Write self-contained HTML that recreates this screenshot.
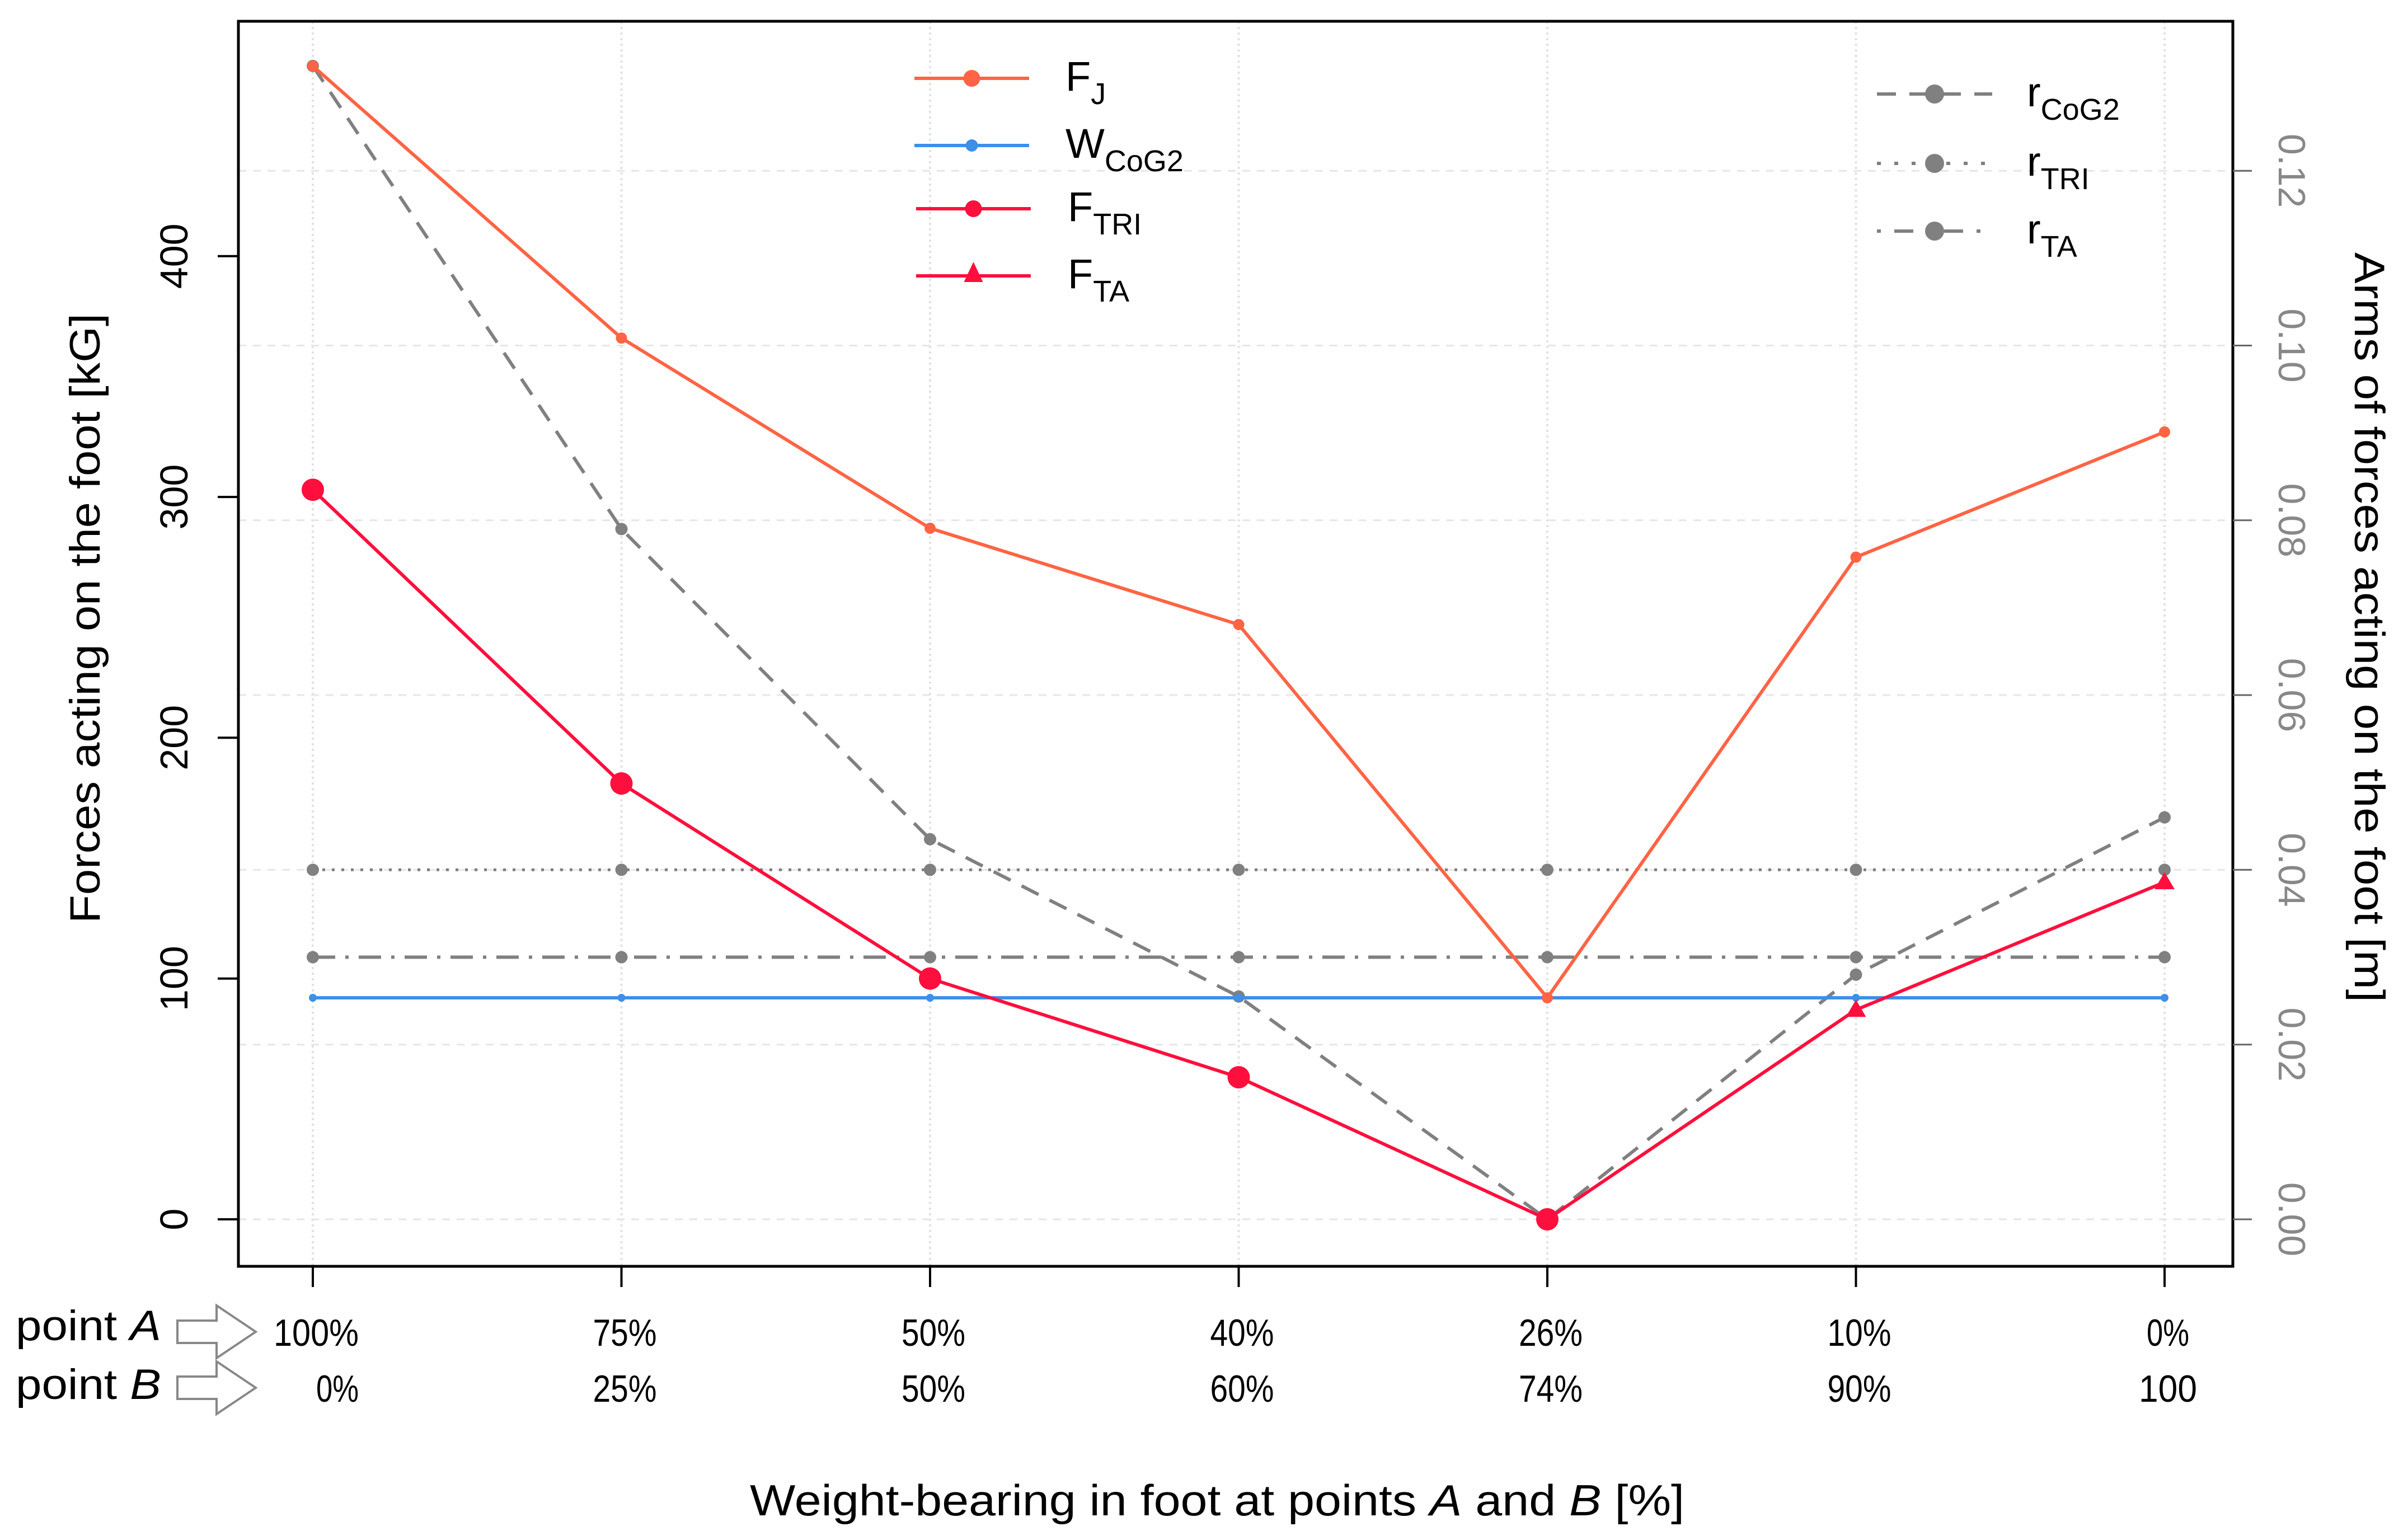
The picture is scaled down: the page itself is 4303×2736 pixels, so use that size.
<!DOCTYPE html>
<html><head><meta charset="utf-8"><style>body{margin:0;background:#fff}svg{display:block}</style></head>
<body>
<svg id="chart" width="4303" height="2736" viewBox="0 0 4303 2736" xmlns="http://www.w3.org/2000/svg" font-family="Liberation Sans, sans-serif">
<rect width="4303" height="2736" fill="#fff"/>
<g id="grid"></g><g id="axes"></g><g id="series"></g><g id="legend"></g>
</svg>
<script>
const categoriesA = ["100%","75%","50%","40%","26%","10%","0%"];
const categoriesB = ["0%","25%","50%","60%","74%","90%","100"];
const leftTicks = [0,100,200,300,400];
const rightTicks = [0,0.02,0.04,0.06,0.08,0.10,0.12];
const rightTickLabels = ["0.00","0.02","0.04","0.06","0.08","0.10","0.12"];
const FJ = [479,366,287,247,92,275,327];
const WCoG2 = [92,92,92,92,92,92,92];
const FTRI = [303,181,100,59,0,null,null];
const FTA = [null,null,null,null,0,87,140];
const rCoG2 = [0.132,0.079,0.0435,0.0255,0,0.028,0.046];
const rTRI = [0.04,0.04,0.04,0.04,0.04,0.04,0.04];
const rTA = [0.03,0.03,0.03,0.03,0.03,0.03,0.03];

const NS="http://www.w3.org/2000/svg";
const L=426,R=3990,T=38,B=2263;
const x = i => 559 + i*551.5;
const yL = v => 2179 - v*4.303;
const yR = v => 2179 - v/0.02*312.3;
function mk(tag,attrs,parent){const e=document.createElementNS(NS,tag);for(const k in attrs)e.setAttribute(k,attrs[k]);document.getElementById(parent).appendChild(e);return e;}

categoriesA.forEach((c,i)=>{const g=mk('line',{x1:x(i),x2:x(i),y1:T,y2:B,stroke:'#e2e2e2','stroke-width':4,'stroke-dasharray':'4 6'},'grid');

});
rightTicks.forEach(v=>{const g=mk('line',{x1:L,x2:R,y1:yR(v),y2:yR(v),stroke:'#e6e6e6','stroke-width':3,'stroke-dasharray':'14 12'},'grid');

});

const box=mk('rect',{x:L,y:T,width:R-L,height:B-T,fill:'none',stroke:'#000','stroke-width':5},'axes');


leftTicks.forEach(v=>{
 const t=mk('line',{x1:389,x2:L,y1:yL(v),y2:yL(v),stroke:'#000','stroke-width':4},'axes');
 
 
 const tx=mk('text',{x:0,y:0,'font-size':70,'text-anchor':'middle',transform:`translate(335,${yL(v)}) rotate(-90)`},'axes');
 tx.textContent=v;
 
 
});
rightTicks.forEach((v,i)=>{
 const t=mk('line',{x1:R,x2:4024,y1:yR(v),y2:yR(v),stroke:'#666','stroke-width':3},'axes');
 
 
 const tx=mk('text',{x:0,y:0,'font-size':68,'text-anchor':'middle',fill:'#888',transform:`translate(4072,${yR(v)}) rotate(90)`},'axes');
 tx.textContent=rightTickLabels[i];
 
 
});
categoriesA.forEach((c,i)=>{
 const t=mk('line',{x1:x(i),x2:x(i),y1:B,y2:2300,stroke:'#000','stroke-width':4},'axes');
 
 
 const a=mk('text',{x:x(i)+6,y:2405,'font-size':68,'text-anchor':'middle',textLength:(c.length*38),lengthAdjust:'spacingAndGlyphs'},'axes');
 a.textContent=c;
 
 
 const b=mk('text',{x:(i==0?603:x(i)+6),y:2505,'font-size':68,'text-anchor':'middle',textLength:(categoriesB[i].length*38+(categoriesB[i].indexOf('%')<0?-10:0)),lengthAdjust:'spacingAndGlyphs'},'axes');
 b.textContent=categoriesB[i];
 
 
});

function line(vals,scale,color,w,dash,name,marker,mr){
 let d='';let started=false;
 vals.forEach((v,i)=>{if(v===null){started=false;return;}d+=(started?'L':'M')+x(i)+' '+scale(v)+' ';started=true;});
 const p=mk('path',{d:d,fill:'none',stroke:color,'stroke-width':w,'stroke-dasharray':dash||'none','stroke-linejoin':'round'},'series');
 
 
 vals.forEach((v,i)=>{if(v===null)return;let m;
  if(marker==='tri'){if(i===4)return;const cx=x(i),cy=scale(v);m=mk('polygon',{points:`${cx},${cy-mr} ${cx-mr},${cy+mr*0.7} ${cx+mr},${cy+mr*0.7}`,fill:color},'series');}
  else m=mk('circle',{cx:x(i),cy:scale(v),r:mr,fill:color},'series');
  
  });
}
line(rTRI,yR,'#808080',5,'5 12','r-tri','c',11);
line(rTA,yR,'#808080',6,'40 18 6 18','r-ta','c',11);
line(rCoG2,yR,'#808080',6,'34 22','r-cog2','c',11);
line(WCoG2,yL,'#3d8fe8',6,null,'w-cog2','c',7);
line(FJ,yL,'#ff6445',6,null,'f-j','c',10);
line(FTRI,yL,'#ff0f3d',6,null,'f-tri','c',20);
line(FTA,yL,'#ff0f3d',6,null,'f-ta','tri',18);

function leg(x1,x2,y,color,w,dash,mtype,mr,label,sub,tx,name){
 const l=mk('line',{x1:x1,x2:x2,y1:y,y2:y,stroke:color,'stroke-width':w,'stroke-dasharray':dash||'none'},'legend');
 
 
 const cx=(x1+x2)/2;let m;
 if(mtype==='tri')m=mk('polygon',{points:`${cx},${y-25} ${cx-17},${y+11} ${cx+17},${y+11}`,fill:color},'legend');
 else m=mk('circle',{cx:cx,cy:y,r:mr,fill:color},'legend');
 
 
 const t=mk('text',{x:tx,y:y+22,'font-size':74},'legend');
 
 
 const s1=document.createElementNS(NS,'tspan');s1.textContent=label;t.appendChild(s1);
 const s2=document.createElementNS(NS,'tspan');s2.setAttribute('font-size','54');s2.setAttribute('dy','24');s2.textContent=sub;t.appendChild(s2);
}
leg(1634,1839,140,'#ff6445',6,null,'c',15,'F','J',1904,'f-j');
leg(1634,1839,260,'#3d8fe8',6,null,'c',11,'W','CoG2',1904,'w-cog2');
leg(1637,1842,373,'#ff0f3d',6,null,'c',15,'F','TRI',1908,'f-tri');
leg(1637,1842,493,'#ff0f3d',6,null,'tri',0,'F','TA',1908,'f-ta');
leg(3354,3560,168,'#808080',6,'34 24','c',17,'r','CoG2',3622,'r-cog2');
leg(3354,3560,292,'#808080',6,'7 24','c',17,'r','TRI',3622,'r-tri');
leg(3354,3560,413,'#808080',6,'7 24 34 24','c',17,'r','TA',3622,'r-ta');

function txt(attrs,content,name,parent){const t=mk('text',attrs,parent||'axes');t.textContent=content;return t;}
txt({x:0,y:0,'font-size':76,'text-anchor':'middle',transform:'translate(178,1105) rotate(-90)',textLength:1090,lengthAdjust:'spacingAndGlyphs'},'Forces acting on the foot  [kG]','y-axis-title-left');
txt({x:0,y:0,'font-size':76,'text-anchor':'middle',transform:'translate(4208,1121) rotate(90)',textLength:1340,lengthAdjust:'spacingAndGlyphs'},'Arms of forces acting on the foot [m]','y-axis-title-right');
const xt=mk('text',{x:2175,y:2708,'font-size':78,'text-anchor':'middle',textLength:1670,lengthAdjust:'spacingAndGlyphs'},'axes');


xt.innerHTML='Weight-bearing in foot at points <tspan font-style="italic">A</tspan> and <tspan font-style="italic">B</tspan>   [%]';
const pa=mk('text',{x:28,y:2395,'font-size':76,textLength:260,lengthAdjust:'spacingAndGlyphs'},'axes');


pa.innerHTML='point <tspan font-style="italic">A</tspan>';
const pb=mk('text',{x:28,y:2500,'font-size':76,textLength:260,lengthAdjust:'spacingAndGlyphs'},'axes');


pb.innerHTML='point <tspan font-style="italic">B</tspan>';
[2380,2480].forEach(cy=>{const ar=mk('polygon',{points:`317,${cy-20} 387,${cy-20} 387,${cy-47} 457,${cy} 387,${cy+47} 387,${cy+20} 317,${cy+20}`,fill:'#fff',stroke:'#888','stroke-width':4},'axes');

});
</script>
</body></html>
